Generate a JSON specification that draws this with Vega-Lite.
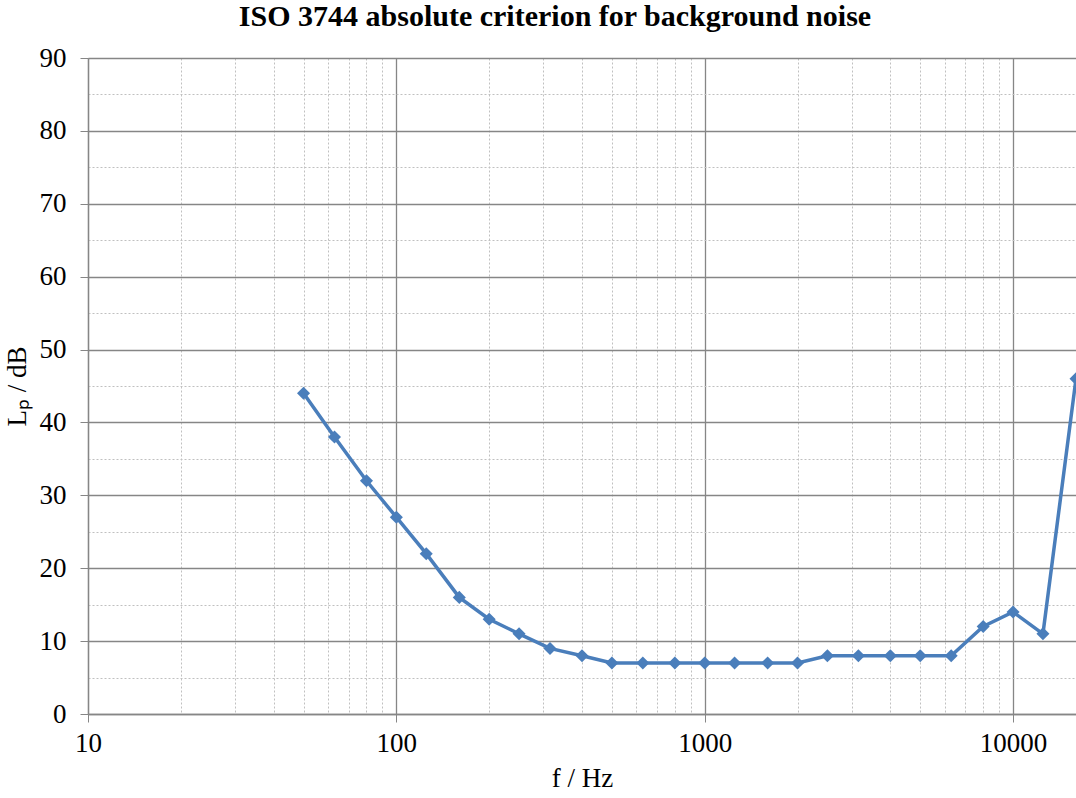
{
  "$schema": "https://vega.github.io/schema/vega-lite/v6.json",
  "autosize": "none",
  "width": 988,
  "height": 656,
  "padding": {"left": 88, "top": 58, "right": 0, "bottom": 84},
  "background": "white",
  "title": {
    "text": "ISO 3744 absolute criterion for background noise",
    "font": "Liberation Serif",
    "fontSize": 30,
    "fontWeight": "bold",
    "color": "black",
    "anchor": "middle",
    "dx": -27,
    "offset": 12
  },
  "config": {
    "view": {"stroke": null},
    "axis": {
      "labelFont": "Liberation Serif",
      "titleFont": "Liberation Serif",
      "labelFontSize": 27,
      "titleFontSize": 27,
      "titleFontWeight": "normal",
      "labelColor": "black",
      "titleColor": "black",
      "domainColor": "#868686",
      "tickColor": "#868686",
      "tickSize": 8,
      "labelOverlap": false,
      "labelFlush": false
    }
  },
  "data": {
    "values": [
      {"f": 50, "Lp": 44}, {"f": 63, "Lp": 38}, {"f": 80, "Lp": 32},
      {"f": 100, "Lp": 27}, {"f": 125, "Lp": 22}, {"f": 160, "Lp": 16},
      {"f": 200, "Lp": 13}, {"f": 250, "Lp": 11}, {"f": 315, "Lp": 9},
      {"f": 400, "Lp": 8}, {"f": 500, "Lp": 7}, {"f": 630, "Lp": 7},
      {"f": 800, "Lp": 7}, {"f": 1000, "Lp": 7}, {"f": 1250, "Lp": 7},
      {"f": 1600, "Lp": 7}, {"f": 2000, "Lp": 7}, {"f": 2500, "Lp": 8},
      {"f": 3150, "Lp": 8}, {"f": 4000, "Lp": 8}, {"f": 5000, "Lp": 8},
      {"f": 6300, "Lp": 8}, {"f": 8000, "Lp": 12}, {"f": 10000, "Lp": 14},
      {"f": 12500, "Lp": 11}, {"f": 16000, "Lp": 46}
    ]
  },
  "mark": {
    "type": "line",
    "color": "#4a7ebb",
    "strokeWidth": 3.5,
    "point": {"shape": "diamond", "size": 170, "color": "#4a7ebb", "filled": true},
    "clip": false
  },
  "encoding": {
    "x": {
      "field": "f",
      "type": "quantitative",
      "scale": {"type": "log", "domain": [10, 16000], "nice": false},
      "axis": {
        "title": "f / Hz",
        "values": [10,20,30,40,50,60,70,80,90,100,200,300,400,500,600,700,800,900,1000,2000,3000,4000,5000,6000,7000,8000,9000,10000],
        "labelExpr": "indexof([10,100,1000,10000], datum.value) >= 0 ? format(datum.value, 'd') : ''",
        "labelPadding": 8,
        "titlePadding": 9,
        "grid": true,
        "gridColor": {"condition": {"test": "indexof([10,100,1000,10000], datum.value) >= 0", "value": "#868686"}, "value": "#c0c0c0"},
        "gridDash": {"condition": {"test": "indexof([10,100,1000,10000], datum.value) >= 0", "value": []}, "value": [2, 2]},
        "gridWidth": {"condition": {"test": "indexof([10,100,1000,10000], datum.value) >= 0", "value": 1.3}, "value": 1},
        "tickOpacity": {"condition": {"test": "indexof([10,100,1000,10000], datum.value) >= 0", "value": 1}, "value": 0},
        "domainWidth": 1.3
      }
    },
    "y": {
      "field": "Lp",
      "type": "quantitative",
      "scale": {"domain": [0, 90], "nice": false},
      "axis": {
        "title": "Lₚ / dB",
        "values": [0,5,10,15,20,25,30,35,40,45,50,55,60,65,70,75,80,85,90],
        "labelExpr": "datum.value % 10 == 0 ? format(datum.value, 'd') : ''",
        "labelPadding": 14,
        "titlePadding": 8,
        "grid": true,
        "gridColor": {"condition": {"test": "datum.value % 10 == 0", "value": "#868686"}, "value": "#c0c0c0"},
        "gridDash": {"condition": {"test": "datum.value % 10 == 0", "value": []}, "value": [2, 2]},
        "gridWidth": {"condition": {"test": "datum.value % 10 == 0", "value": 1.3}, "value": 1},
        "tickOpacity": {"condition": {"test": "datum.value % 10 == 0", "value": 1}, "value": 0},
        "domainWidth": 1.3
      }
    }
  }
}
